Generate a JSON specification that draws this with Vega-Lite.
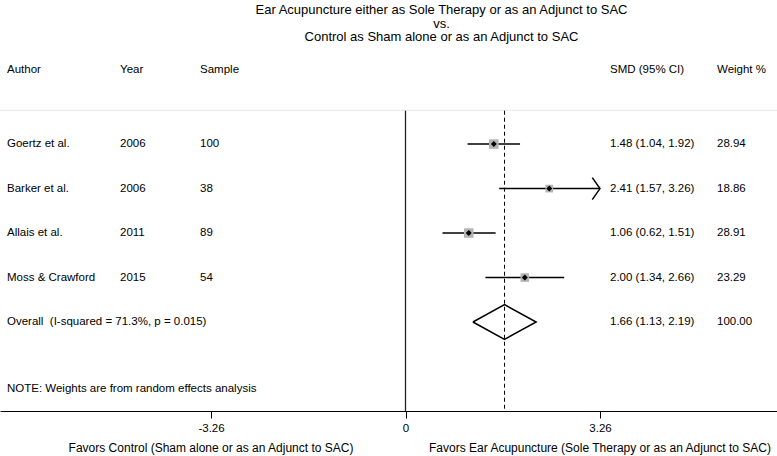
{
  "$schema": "https://vega.github.io/schema/vega-lite/v6.json",
  "width": 777,
  "height": 367,
  "autosize": {"type": "none"},
  "padding": {"top": 44, "bottom": 45, "left": 0, "right": 0},
  "background": "white",
  "config": {"view": {"stroke": null}, "font": "Liberation Sans"},
  "title": {
    "text": ["Ear Acupuncture either as Sole Therapy or as an Adjunct to SAC", "vs.", "Control as Sham alone or as an Adjunct to SAC"],
    "fontSize": 13, "fontWeight": "normal", "font": "Liberation Sans", "color": "black",
    "anchor": "middle", "frame": "group", "dx": 53, "offset": 0, "lineHeight": 13.5
  },
  "datasets": {
    "tbl": [
      {"row": -0.66, "author": "Author", "year": "Year", "sample": "Sample", "ci": "SMD (95% CI)", "wt": "Weight %"},
      {"row": 1, "author": "Goertz et al.", "year": "2006", "sample": "100", "ci": "1.48 (1.04, 1.92)", "wt": "28.94"},
      {"row": 2, "author": "Barker et al.", "year": "2006", "sample": "38", "ci": "2.41 (1.57, 3.26)", "wt": "18.86"},
      {"row": 3, "author": "Allais et al.", "year": "2011", "sample": "89", "ci": "1.06 (0.62, 1.51)", "wt": "28.91"},
      {"row": 4, "author": "Moss & Crawford", "year": "2015", "sample": "54", "ci": "2.00 (1.34, 2.66)", "wt": "23.29"},
      {"row": 5, "author": "Overall\u00a0 (I-squared = 71.3%, p = 0.015)", "year": "", "sample": "", "ci": "1.66 (1.13, 2.19)", "wt": "100.00"}
    ],
    "studies": [
      {"row": 1, "smd": 1.48, "lo": 1.04, "hi": 1.92, "weight": 28.94, "arrow": false},
      {"row": 2, "smd": 2.41, "lo": 1.57, "hi": 3.26, "weight": 18.86, "arrow": true},
      {"row": 3, "smd": 1.06, "lo": 0.62, "hi": 1.51, "weight": 28.91, "arrow": false},
      {"row": 4, "smd": 2.0, "lo": 1.34, "hi": 2.66, "weight": 23.29, "arrow": false}
    ],
    "overall": [{"row": 5, "smd": 1.66, "lo": 1.13, "hi": 2.19}],
    "diamond": [
      {"i": 0, "x": 1.13, "y": 5},
      {"i": 1, "x": 1.66, "y": 4.61},
      {"i": 2, "x": 2.19, "y": 5},
      {"i": 3, "x": 1.66, "y": 5.39},
      {"i": 4, "x": 1.13, "y": 5}
    ],
    "axislabels": [
      {"x": -3.26, "label": "Favors Control (Sham alone or as an Adjunct to SAC)"},
      {"x": 3.26, "label": "Favors Ear Acupuncture (Sole Therapy or as an Adjunct to SAC)"}
    ]
  },
  "layer": [
    {
      "data": {"name": "studies"},
      "mark": {"type": "rule", "color": "black", "strokeWidth": 1.5},
      "encoding": {
        "x": {"field": "lo", "type": "quantitative", "scale": {"domain": [-6.797, 6.227], "nice": false, "zero": false},
          "axis": {"values": [-3.26, 0, 3.26], "labelExpr": "datum.value < 0 ? '-' + format(-datum.value, '.2f') : (datum.value == 0 ? '0' : format(datum.value, '.2f'))",
            "title": null, "grid": false, "domainColor": "black", "domainWidth": 1, "tickColor": "black", "tickSize": 7, "tickWidth": 1,
            "labelFontSize": 11.5, "labelColor": "black", "labelFont": "Liberation Sans", "labelPadding": 4, "labelFlush": false, "labelOverlap": false}},
        "x2": {"field": "hi"},
        "y": {"field": "row", "type": "quantitative", "scale": {"domain": [-1.25, 7], "reverse": true, "nice": false, "zero": false}, "axis": null}
      }
    },
    {
      "data": {"values": [{}]},
      "mark": {"type": "rule", "color": "#e6e6e6", "strokeWidth": 1},
      "encoding": {
        "y": {"datum": 0.24, "type": "quantitative", "scale": {"domain": [-1.25, 7], "reverse": true, "nice": false, "zero": false}, "axis": null}
      }
    },
    {
      "data": {"values": [{}]},
      "mark": {"type": "rule", "color": "#222222", "strokeWidth": 1.3},
      "encoding": {
        "x": {"datum": 0, "type": "quantitative", "scale": {"domain": [-6.797, 6.227], "nice": false, "zero": false}},
        "y": {"datum": 0.25, "type": "quantitative", "scale": {"domain": [-1.25, 7], "reverse": true, "nice": false, "zero": false}, "axis": null},
        "y2": {"datum": 7}
      }
    },
    {
      "data": {"name": "overall"},
      "mark": {"type": "rule", "color": "black", "strokeWidth": 1, "strokeDash": [4, 3]},
      "encoding": {
        "x": {"field": "smd", "type": "quantitative", "scale": {"domain": [-6.797, 6.227], "nice": false, "zero": false}},
        "y": {"datum": 0.25, "type": "quantitative", "scale": {"domain": [-1.25, 7], "reverse": true, "nice": false, "zero": false}, "axis": null},
        "y2": {"datum": 7}
      }
    },
    {
      "data": {"name": "studies"},
      "mark": {"type": "point", "shape": "square", "filled": true, "color": "#b4b4b4", "opacity": 1},
      "encoding": {
        "x": {"field": "smd", "type": "quantitative", "scale": {"domain": [-6.797, 6.227], "nice": false, "zero": false}},
        "y": {"field": "row", "type": "quantitative", "scale": {"domain": [-1.25, 7], "reverse": true, "nice": false, "zero": false}, "axis": null},
        "size": {"field": "weight", "type": "quantitative", "scale": {"domain": [0, 30], "range": [0, 95]}, "legend": null}
      }
    },
    {
      "data": {"name": "studies"},
      "mark": {"type": "point", "shape": "diamond", "filled": true, "color": "black", "opacity": 1, "size": 36},
      "encoding": {
        "x": {"field": "smd", "type": "quantitative", "scale": {"domain": [-6.797, 6.227], "nice": false, "zero": false}},
        "y": {"field": "row", "type": "quantitative", "scale": {"domain": [-1.25, 7], "reverse": true, "nice": false, "zero": false}, "axis": null}
      }
    },
    {
      "data": {"name": "studies"},
      "transform": [{"filter": "datum.arrow"}],
      "mark": {"type": "point", "shape": "M-0.7,-1L0,0L-0.7,1", "filled": false, "color": "black", "strokeWidth": 1.5, "opacity": 1, "size": 484},
      "encoding": {
        "x": {"field": "hi", "type": "quantitative", "scale": {"domain": [-6.797, 6.227], "nice": false, "zero": false}},
        "y": {"field": "row", "type": "quantitative", "scale": {"domain": [-1.25, 7], "reverse": true, "nice": false, "zero": false}, "axis": null}
      }
    },
    {
      "data": {"name": "diamond"},
      "mark": {"type": "line", "color": "black", "strokeWidth": 1.5},
      "encoding": {
        "x": {"field": "x", "type": "quantitative", "scale": {"domain": [-6.797, 6.227], "nice": false, "zero": false}},
        "y": {"field": "y", "type": "quantitative", "scale": {"domain": [-1.25, 7], "reverse": true, "nice": false, "zero": false}, "axis": null},
        "order": {"field": "i", "type": "quantitative"}
      }
    },
    {
      "data": {"name": "tbl"},
      "mark": {"type": "text", "align": "left", "baseline": "middle", "fontSize": 11.5, "font": "Liberation Sans", "color": "black"},
      "encoding": {
        "x": {"datum": -6.68, "type": "quantitative", "scale": {"domain": [-6.797, 6.227], "nice": false, "zero": false}},
        "y": {"field": "row", "type": "quantitative", "scale": {"domain": [-1.25, 7], "reverse": true, "nice": false, "zero": false}, "axis": null},
        "text": {"field": "author"}
      }
    },
    {
      "data": {"name": "tbl"},
      "mark": {"type": "text", "align": "left", "baseline": "middle", "fontSize": 11.5, "font": "Liberation Sans", "color": "black"},
      "encoding": {
        "x": {"datum": -4.785, "type": "quantitative", "scale": {"domain": [-6.797, 6.227], "nice": false, "zero": false}},
        "y": {"field": "row", "type": "quantitative", "scale": {"domain": [-1.25, 7], "reverse": true, "nice": false, "zero": false}, "axis": null},
        "text": {"field": "year"}
      }
    },
    {
      "data": {"name": "tbl"},
      "mark": {"type": "text", "align": "left", "baseline": "middle", "fontSize": 11.5, "font": "Liberation Sans", "color": "black"},
      "encoding": {
        "x": {"datum": -3.444, "type": "quantitative", "scale": {"domain": [-6.797, 6.227], "nice": false, "zero": false}},
        "y": {"field": "row", "type": "quantitative", "scale": {"domain": [-1.25, 7], "reverse": true, "nice": false, "zero": false}, "axis": null},
        "text": {"field": "sample"}
      }
    },
    {
      "data": {"name": "tbl"},
      "mark": {"type": "text", "align": "left", "baseline": "middle", "fontSize": 11.5, "font": "Liberation Sans", "color": "black"},
      "encoding": {
        "x": {"datum": 3.428, "type": "quantitative", "scale": {"domain": [-6.797, 6.227], "nice": false, "zero": false}},
        "y": {"field": "row", "type": "quantitative", "scale": {"domain": [-1.25, 7], "reverse": true, "nice": false, "zero": false}, "axis": null},
        "text": {"field": "ci"}
      }
    },
    {
      "data": {"name": "tbl"},
      "mark": {"type": "text", "align": "left", "baseline": "middle", "fontSize": 11.5, "font": "Liberation Sans", "color": "black"},
      "encoding": {
        "x": {"datum": 5.221, "type": "quantitative", "scale": {"domain": [-6.797, 6.227], "nice": false, "zero": false}},
        "y": {"field": "row", "type": "quantitative", "scale": {"domain": [-1.25, 7], "reverse": true, "nice": false, "zero": false}, "axis": null},
        "text": {"field": "wt"}
      }
    },
    {
      "data": {"values": [{}]},
      "mark": {"type": "text", "align": "left", "baseline": "middle", "fontSize": 11.5, "font": "Liberation Sans", "color": "black"},
      "encoding": {
        "x": {"datum": -6.68, "type": "quantitative", "scale": {"domain": [-6.797, 6.227], "nice": false, "zero": false}},
        "y": {"datum": 6.5, "type": "quantitative", "scale": {"domain": [-1.25, 7], "reverse": true, "nice": false, "zero": false}, "axis": null},
        "text": {"value": "NOTE: Weights are from random effects analysis"}
      }
    },
    {
      "data": {"name": "axislabels"},
      "mark": {"type": "text", "align": "center", "baseline": "middle", "fontSize": 12, "font": "Liberation Sans", "color": "black"},
      "encoding": {
        "x": {"field": "x", "type": "quantitative", "scale": {"domain": [-6.797, 6.227], "nice": false, "zero": false}},
        "y": {"datum": 7.84, "type": "quantitative", "scale": {"domain": [-1.25, 7], "reverse": true, "nice": false, "zero": false}, "axis": null},
        "text": {"field": "label"}
      }
    }
  ]
}
